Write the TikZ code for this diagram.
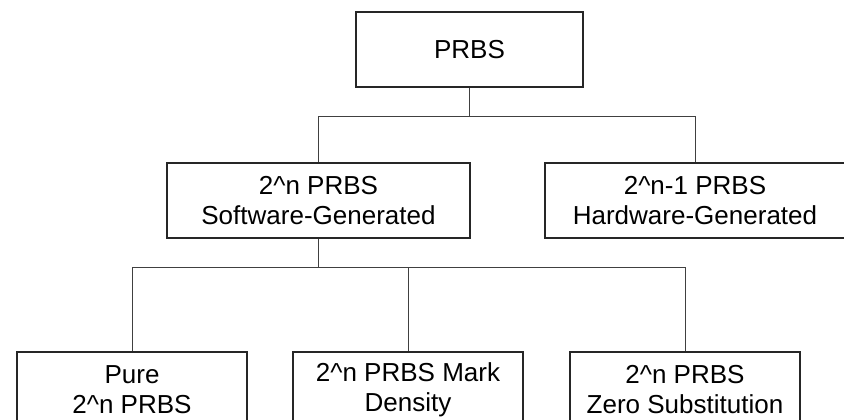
\documentclass[tikz,border=0pt]{standalone}
\usepackage{fontspec}
\setmainfont{Liberation Sans}
\usepackage{tikz}
\usetikzlibrary{calc,positioning}

\begin{document}
\begin{tikzpicture}[x=0.025cm,y=-0.025cm]
\tikzstyle{box}=[
    rectangle, draw=black!85, line width=0.8pt,
    minimum height=1.875cm, inner sep=0pt,
    align=center, font=\fontsize{18.5}{21.3}\selectfont]
\tikzstyle{link}=[draw=black!75, line width=0.7pt]
\useasboundingbox (0,0) rectangle (844,420);
\node[box, minimum width=5.675cm] (prbs) at (469.5,49.5) {PRBS};
\node[box, minimum width=7.575cm] (soft) at (318.5,200.5) {2\^{}n PRBS\\Software-Generated};
\node[box, minimum width=7.5cm] (hard) at (695,200.5) {2\^{}n-1 PRBS\\Hardware-Generated};
\node[box, minimum width=5.75cm] (pure) at (132,389.5) {Pure\\2\^{}n PRBS};
\node[box, minimum width=5.75cm] (mark) at (408,389.5) {2\^{}n PRBS Mark\\Density};
\node[box, minimum width=5.75cm] (zero) at (685,389.5) {2\^{}n PRBS\\Zero Substitution};
% junctions
\coordinate (top) at (prbs.south |- 0,116);
\coordinate (mid) at (soft.south |- 0,267);
\draw[link] (prbs.south) -- (top);
\draw[link] (top) -| (soft.north);
\draw[link] (top) -| (hard.north);
\draw[link] (soft.south) -- (mid);
\draw[link] (mid) -| (pure.north);
\draw[link] (mid) -| (mark.north);
\draw[link] (mid) -| (zero.north);
\end{tikzpicture}
\end{document}
